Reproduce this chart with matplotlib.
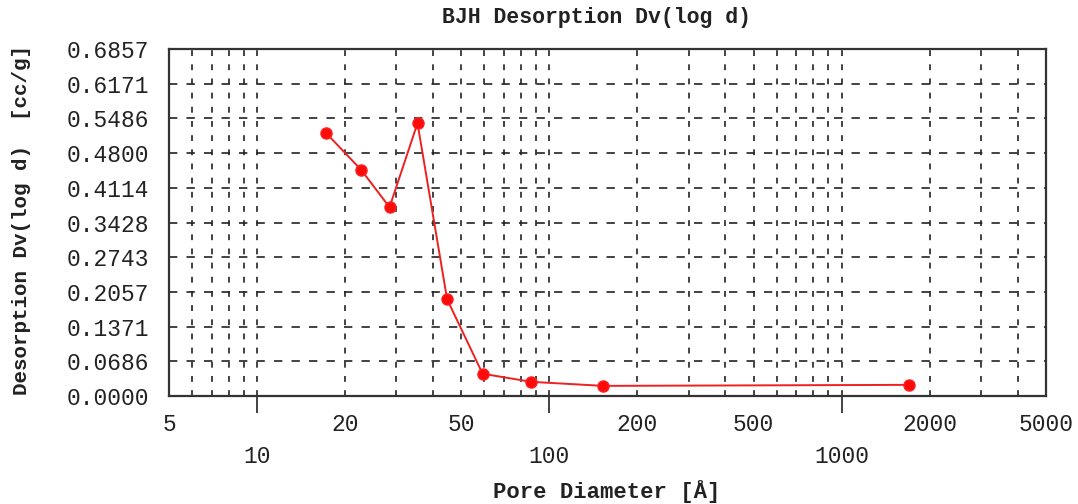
import numpy as np
import matplotlib
matplotlib.use("Agg")
import matplotlib.pyplot as plt
from matplotlib.ticker import FixedLocator, FixedFormatter

# data
pore_diam = [17.2, 22.7, 28.4, 35.4, 44.7, 59.1, 86.6, 152.8, 1700.0]
dv_logd = [0.520, 0.447, 0.373, 0.539, 0.191, 0.044, 0.028, 0.020, 0.022]

y_ticks = [0.0, 0.0686, 0.1371, 0.2057, 0.2743, 0.3428, 0.4114, 0.4800, 0.5486, 0.6171, 0.6857]
y_labels = ["0.0000", "0.0686", "0.1371", "0.2057", "0.2743", "0.3428",
            "0.4114", "0.4800", "0.5486", "0.6171", "0.6857"]
x_upper = [5, 20, 50, 200, 500, 2000, 5000]
x_lower = [10, 100, 1000]
x_minor = [6, 7, 8, 9, 20, 30, 40, 50, 60, 70, 80, 90,
           200, 300, 400, 500, 600, 700, 800, 900, 2000, 3000, 4000]

mono = "Liberation Mono"
ink = "#222222"

fig = plt.figure(figsize=(10.78, 5.04), dpi=100)
ax = fig.add_axes([0.1568, 0.2143, 0.8135, 0.6885])

ax.set_xscale("log")
ax.set_xlim(5, 5000)
ax.set_ylim(0, 0.6857)

# grid: dashed, vertical at every log tick, horizontal at y ticks
for xv in x_minor + x_lower:
    ax.axvline(xv, color=ink, lw=1.2, dashes=(3.5, 5), zorder=1)
for yv in y_ticks[1:-1]:
    ax.axhline(yv, color=ink, lw=1.2, dashes=(5, 5.5), zorder=1)

ax.plot(pore_diam, dv_logd, color="#ee2020", lw=1.4, marker="o",
        markersize=8, markerfacecolor="#ff0a0a", markeredgecolor="#ff2020", zorder=3)

ax.yaxis.set_major_locator(FixedLocator(y_ticks))
ax.yaxis.set_major_formatter(FixedFormatter(y_labels))
ax.yaxis.set_minor_locator(FixedLocator([]))
ax.tick_params(axis="y", length=0, pad=14, labelsize=16.5)

ax.xaxis.set_major_locator(FixedLocator(x_lower))
ax.xaxis.set_major_formatter(FixedFormatter(["\n" + str(v) for v in x_lower]))
ax.xaxis.set_minor_locator(FixedLocator(x_upper))
ax.xaxis.set_minor_formatter(FixedFormatter([str(v) for v in x_upper]))
ax.tick_params(axis="x", which="major", length=12, width=1.2, direction="out",
               pad=4, labelsize=16.5, colors=ink)
ax.tick_params(axis="x", which="minor", length=0, pad=12, labelsize=16.5)

for lab in ax.get_xticklabels(which="both") + ax.get_yticklabels():
    lab.set_fontfamily(mono)
    lab.set_color(ink)

for s in ax.spines.values():
    s.set_linewidth(1.6)
    s.set_color("#333333")

fig.text(596 / 1078, 1 - 17 / 504, "BJH Desorption Dv(log d)", fontfamily=mono,
         fontsize=15.5, fontweight="bold", color=ink, ha="center", va="center")
fig.text(22 / 1078, 1 - 220 / 504, "Desorption Dv(log d)  [cc/g]", fontfamily=mono,
         fontsize=15, fontweight="bold", color=ink, ha="center", va="center", rotation=90)
fig.text(607 / 1078, 1 - 492 / 504, "Pore Diameter [\u00c5]", fontfamily=mono,
         fontsize=16, fontweight="bold", color=ink, ha="center", va="center")

fig.savefig("out.png", dpi=100)
